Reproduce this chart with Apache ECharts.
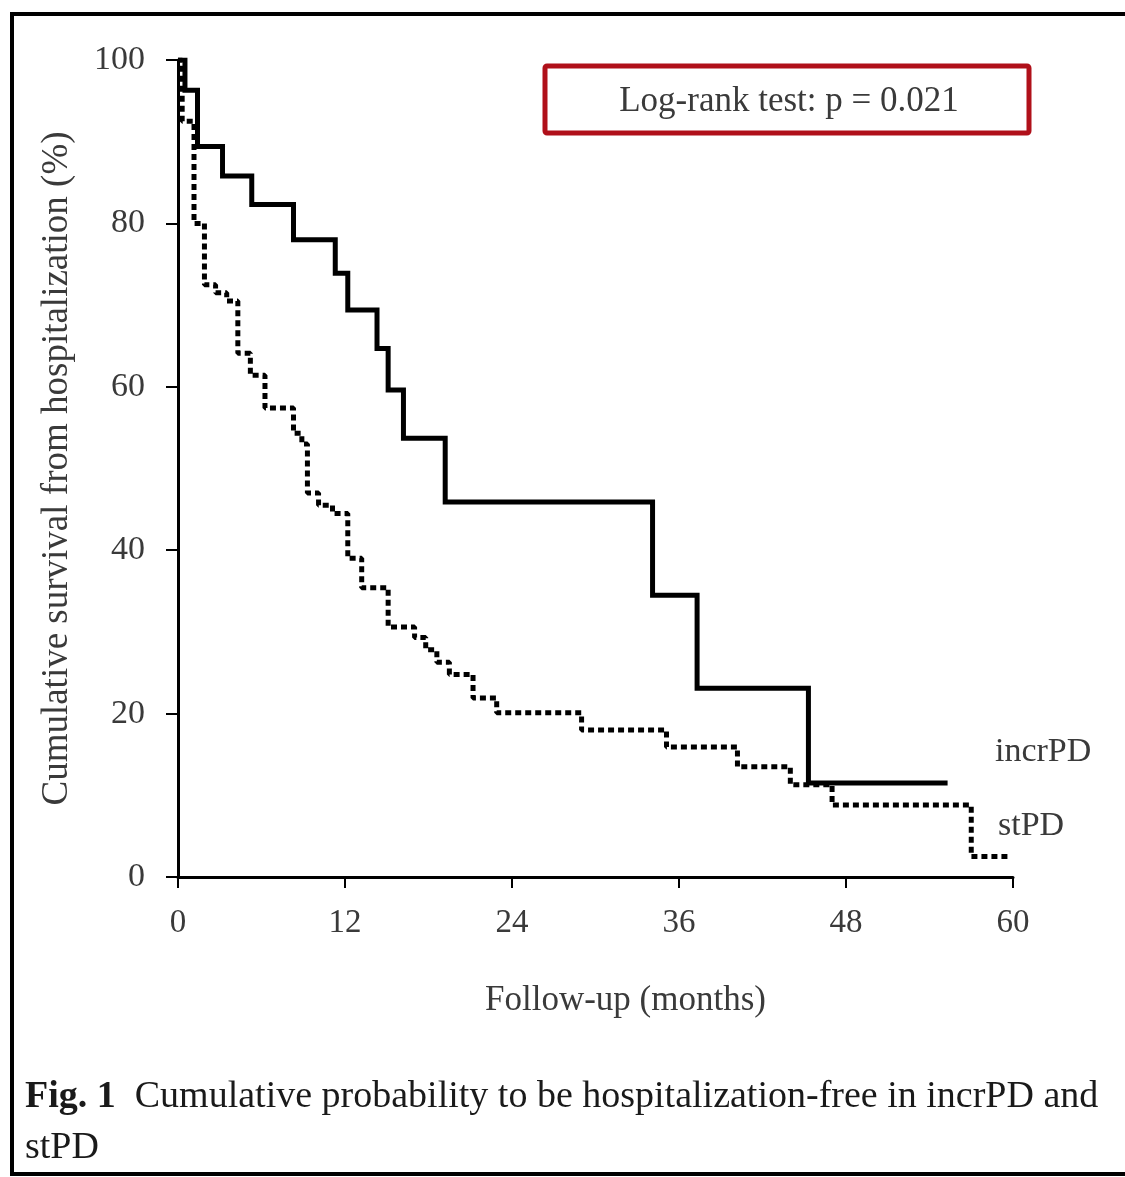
<!DOCTYPE html>
<html>
<head>
<meta charset="utf-8">
<script src="https://cdn.jsdelivr.net/npm/echarts@6/dist/echarts.min.js"></script>
<style>
  html, body { margin: 0; padding: 0; background: #fff; }
  #chart { width: 1125px; height: 1177px; }
</style>
</head>
<body>
<div id="chart"></div>
<script>
// incrPD (solid) - Kaplan-Meier steps
var incrTimes = [0, 0.5, 1.4, 3.2, 5.3, 8.3, 11.3, 12.2, 14.3, 15.1, 16.2, 19.2, 34.1, 37.3, 45.3, 55.3];
var incrSurv  = [100, 96.3, 89.4, 85.8, 82.3, 78, 73.9, 69.4, 64.7, 59.6, 53.7, 45.9, 34.5, 23.1, 11.5, 11.5];

// stPD (dotted)
var stTimes = [0, 0.3, 1.15, 1.9, 2.7, 3.5, 4.3, 5.2, 6.25, 8.3, 8.9, 9.3, 10.1, 11.1, 12.2, 13.2, 15.1,
               17.0, 17.8, 18.6, 19.5, 21.2, 22.9, 29.0, 35.1, 40.2, 44.0, 47.0, 57.0, 59.8];
var stSurv  = [100, 92.5, 80, 72.5, 71.5, 70.5, 64.1, 61.4, 57.4, 54.3, 53, 47, 45.5, 44.5, 39, 35.4, 30.6,
               29.3, 27.8, 26.3, 24.8, 21.9, 20.1, 18.0, 15.9, 13.5, 11.3, 8.8, 2.5, 2.5];

var xTicks = [0, 12, 24, 36, 48, 60];
var yTicks = [0, 20, 40, 60, 80, 100];

function pairs(xs, ys) {
    return xs.map(function (x, i) { return [x, ys[i]]; });
}

var serif = '"Liberation Serif", "DejaVu Serif", serif';
var txt = '#3a3a3a';

var myChart = echarts.init(document.getElementById('chart'));
myChart.setOption({
    backgroundColor: '#fff',
    animation: false,
    grid: {
        left: 178, top: 60, width: 835, height: 817,
        containLabel: false, outerBoundsMode: 'none'
    },
    xAxis: {
        type: 'value',
        min: xTicks[0], max: xTicks[xTicks.length - 1], interval: 12,
        name: 'Follow-up (months)',
        nameLocation: 'middle',
        nameGap: 106,
        nameTextStyle: { fontFamily: serif, fontSize: 35, color: txt, padding: [0, 0, 0, 60] },
        axisLine: { lineStyle: { color: '#000', width: 3 } },
        axisTick: { inside: false, length: 11, lineStyle: { color: '#000', width: 2 } },
        axisLabel: { margin: 30, fontFamily: serif, fontSize: 33, color: txt },
        splitLine: { show: false }
    },
    yAxis: {
        type: 'value',
        min: yTicks[0], max: yTicks[yTicks.length - 1], interval: 20,
        name: 'Cumulative survival from hospitalization (%)',
        nameLocation: 'middle',
        nameGap: 102,
        nameTextStyle: { fontFamily: serif, fontSize: 37, color: txt },
        axisLine: { show: true, lineStyle: { color: '#000', width: 3 } },
        axisTick: { show: true, inside: false, length: 12, lineStyle: { color: '#000', width: 2 } },
        axisLabel: { margin: 33, fontFamily: serif, fontSize: 34, color: txt },
        splitLine: { show: false }
    },
    series: [
        {
            name: 'incrPD',
            type: 'line',
            step: 'end',
            symbol: 'none',
            data: pairs(incrTimes, incrSurv),
            lineStyle: { color: '#000', width: 5, cap: 'butt', join: 'miter' },
            z: 3
        },
        {
            name: 'stPD',
            type: 'line',
            step: 'end',
            symbol: 'none',
            data: pairs(stTimes, stSurv),
            lineStyle: { color: '#000', width: 5, type: [6, 4], cap: 'butt' },
            z: 2
        }
    ],
    graphic: [
        {
            type: 'rect',
            shape: { x: 12, y: 14, width: 1125, height: 1160 },
            style: { fill: 'none', stroke: '#000', lineWidth: 4 },
            silent: true
        },
        {
            type: 'rect',
            shape: { x: 545, y: 66, width: 484, height: 67, r: 2 },
            style: { fill: '#fff', stroke: '#b0101a', lineWidth: 5 }
        },
        {
            type: 'text',
            x: 789, y: 102,
            style: {
                text: 'Log-rank test: p = 0.021',
                font: '35px ' + serif, fill: txt,
                align: 'center', verticalAlign: 'middle'
            }
        },
        {
            type: 'text',
            x: 995, y: 752,
            style: { text: 'incrPD', font: '34px ' + serif, fill: txt, verticalAlign: 'middle' }
        },
        {
            type: 'text',
            x: 998, y: 826,
            style: { text: 'stPD', font: '34px ' + serif, fill: txt, verticalAlign: 'middle' }
        },
        {
            type: 'text',
            x: 25, y: 1097,
            style: {
                text: '{b|Fig. 1}  Cumulative probability to be hospitalization-free in incrPD and',
                font: '38px ' + serif, fill: '#1a1a1a', verticalAlign: 'middle',
                rich: { b: { fontFamily: serif, fontSize: 38, fontWeight: 'bold', fill: '#1a1a1a' } }
            }
        },
        {
            type: 'text',
            x: 25, y: 1148,
            style: { text: 'stPD', font: '38px ' + serif, fill: '#1a1a1a', verticalAlign: 'middle' }
        }
    ]
});
</script>
</body>
</html>
